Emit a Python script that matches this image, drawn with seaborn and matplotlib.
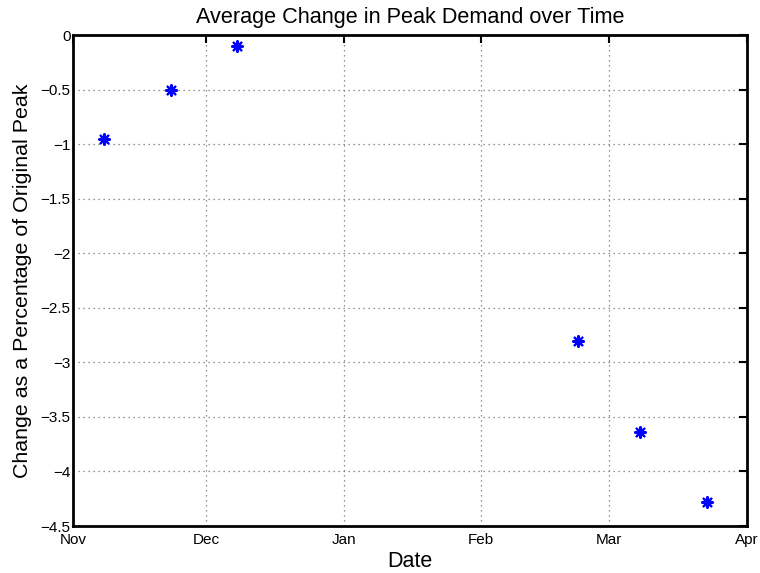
import matplotlib
matplotlib.use("Agg")
import matplotlib.pyplot as plt
import matplotlib.dates as mdates
import numpy as np
import pandas as pd
import seaborn as sns

# Survey dates and average change in peak demand (%)
dates = ["2011-11-08", "2011-11-23", "2011-12-08", "2012-02-23", "2012-03-08", "2012-03-23"]
change_pct = [-0.95, -0.50, -0.10, -2.80, -3.64, -4.28]

y_ticks = [0, -0.5, -1, -1.5, -2, -2.5, -3, -3.5, -4, -4.5]
y_tick_labels = ["0", "\u22120.5", "\u22121", "\u22121.5", "\u22122", "\u22122.5",
                 "\u22123", "\u22123.5", "\u22124", "\u22124.5"]

df = pd.DataFrame({"Date": pd.to_datetime(dates), "Change": change_pct})

sns.set_style("white")
plt.rcParams["font.family"] = ["Liberation Sans", "DejaVu Sans"]
plt.rcParams["text.color"] = "black"
plt.rcParams["axes.labelcolor"] = "black"

fig = plt.figure(figsize=(7.6, 5.73), dpi=100)
ax = fig.add_axes([0.0967, 0.082, 0.8858, 0.8569])

# eight-armed asterisk marker
sns.scatterplot(data=df, x="Date", y="Change", ax=ax, marker=(8, 2, 0), s=60,
                color="blue", linewidth=1.6, zorder=3)

ax.set_xlim(pd.Timestamp("2011-11-01"), pd.Timestamp("2012-04-01"))
ax.set_ylim(-4.5, 0)
ax.set_yticks(y_ticks)
ax.set_yticklabels(y_tick_labels)
ax.xaxis.set_major_locator(mdates.MonthLocator())
ax.xaxis.set_major_formatter(mdates.DateFormatter("%b"))

ax.grid(True, linestyle=(0, (1, 3)), color="0.45", linewidth=0.9)
for s in ax.spines.values():
    s.set_visible(True)
    s.set_linewidth(2.0)
    s.set_color("black")

ax.tick_params(direction="in", length=6, width=1.5, top=True, right=True,
               labelsize=11, colors="black")
ax.tick_params(axis="x", pad=5)
ax.tick_params(axis="y", pad=2)

ax.set_title("Average Change in Peak Demand over Time", fontsize=15.6, pad=9, color="black")
ax.set_xlabel("Date", fontsize=15.5, labelpad=3, color="black")
ax.set_ylabel("Change as a Percentage of Original Peak", fontsize=15.4, color="black")
ax.yaxis.set_label_coords(-0.062, 0.5)

fig.savefig("out.png", dpi=100, facecolor="white")
